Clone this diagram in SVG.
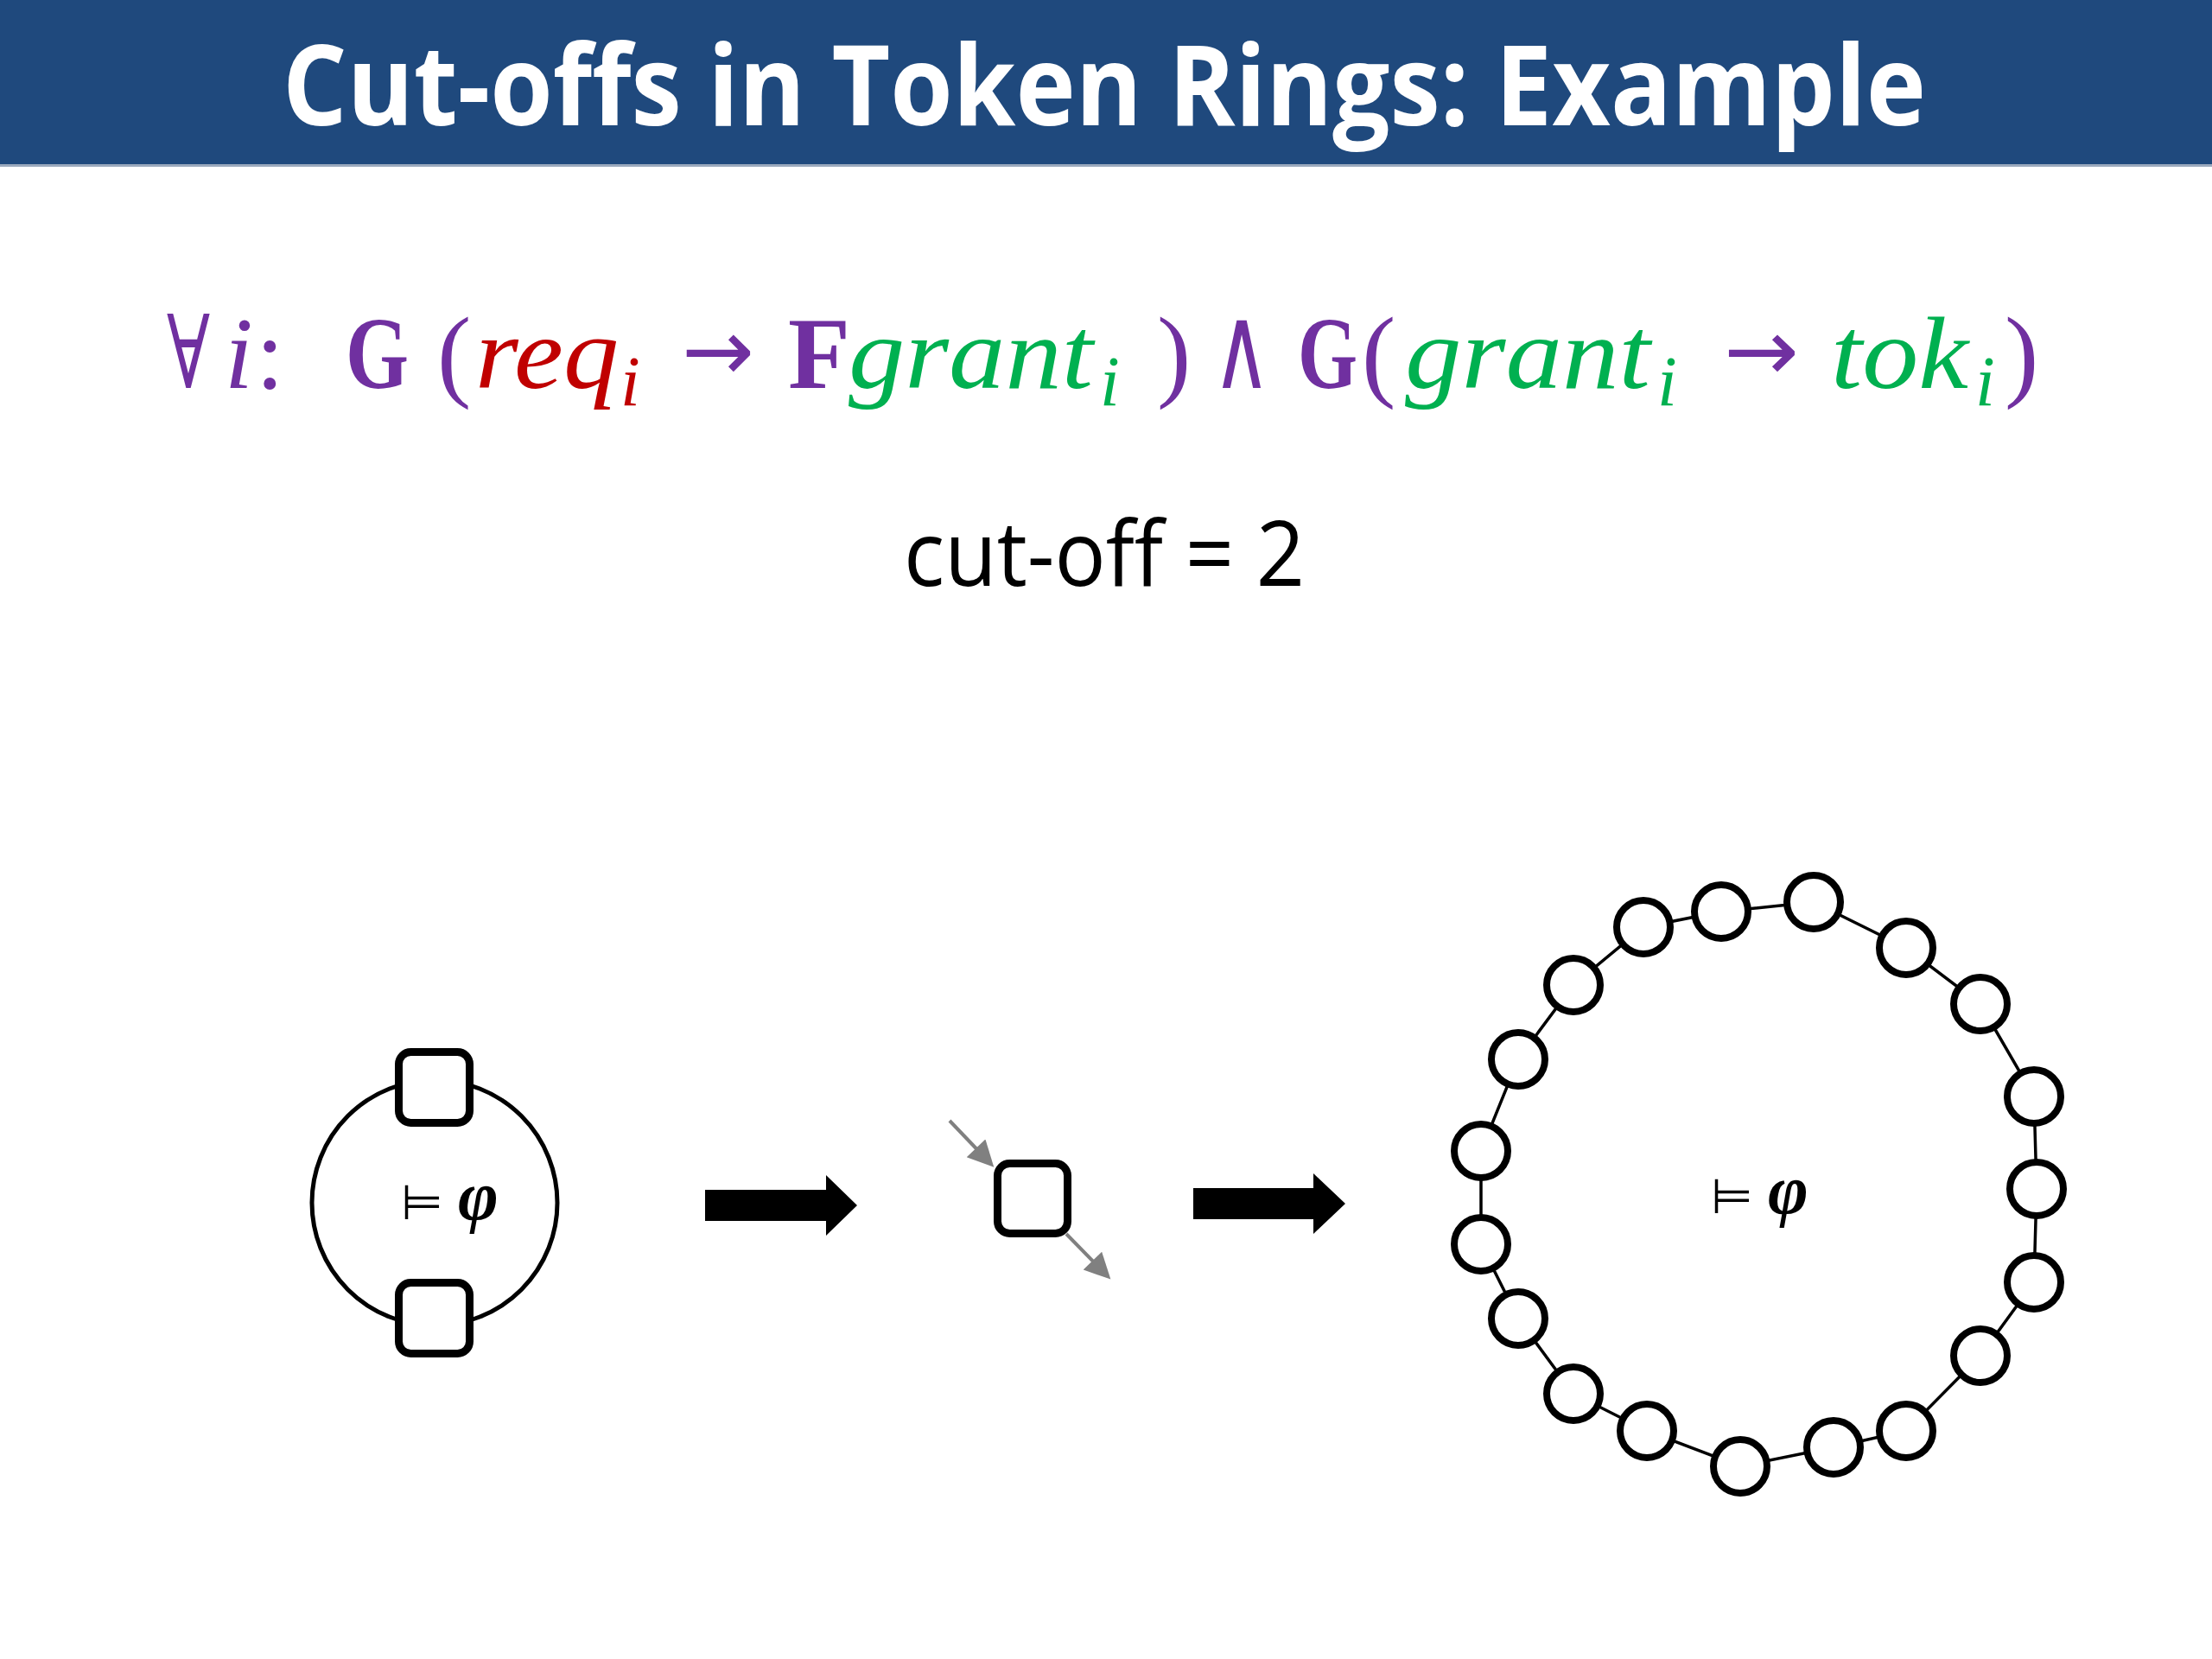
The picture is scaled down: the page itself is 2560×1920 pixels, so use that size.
<svg xmlns="http://www.w3.org/2000/svg" width="2560" height="1920" viewBox="0 0 2560 1920">
<style>
.title{font-family:"Open Sans","Liberation Sans",sans-serif;font-weight:bold;font-size:130px;fill:#fff}
.m{font-family:"Liberation Serif","DejaVu Serif",serif;font-size:118px}
.op{font-family:"DejaVu Sans",sans-serif;font-size:100px}
.it{font-style:italic}
.b{font-weight:bold}
.sub{font-family:"Liberation Serif",serif;font-style:italic;font-size:82px}
.pu{fill:#7030A0}.re{fill:#C00000}.gr{fill:#00B050}
.cut{font-family:"Open Sans","Liberation Sans",sans-serif;font-size:104px;fill:#000}
.ent{font-family:"DejaVu Sans",sans-serif;font-size:56px;fill:#000}
.phi{font-family:"Liberation Serif",serif;font-style:italic;font-weight:bold;font-size:80px;fill:#000}
.sq{fill:#fff;stroke:#000;stroke-width:9}
.node{fill:#fff;stroke:#000;stroke-width:8}
.ring{fill:none;stroke:#000;stroke-width:3.5}
.gray{stroke:#808080;stroke-width:4;fill:none}
</style>
<defs>
<marker id="gh" viewBox="0 0 10 10" refX="6" refY="5" markerWidth="36" markerHeight="30" markerUnits="userSpaceOnUse" orient="auto">
<path d="M0,0 L10,5 L0,10 z" fill="#808080"/>
</marker>
</defs>
<rect width="2560" height="1920" fill="#fff"/>
<g id="title">
<rect x="0" y="0" width="2560" height="190" fill="#1F497D"/>
<rect x="0" y="190" width="2560" height="3" fill="#9aa9bd"/>
<text class="title" x="1278" y="145" text-anchor="middle" textLength="1902" lengthAdjust="spacingAndGlyphs">Cut-offs in Token Rings: Example</text>
</g>
<g id="formula">
<text class="m pu" x="193" y="449" textLength="50" lengthAdjust="spacingAndGlyphs">∀</text>
<text class="m pu it" x="260" y="449">i</text>
<text class="m pu" x="296" y="449">:</text>
<text class="m pu b" x="400" y="449" textLength="73" lengthAdjust="spacingAndGlyphs">G</text>
<text class="m pu" x="506" y="449">(</text>
<text class="m re it" x="550" y="449" textLength="166" lengthAdjust="spacingAndGlyphs">req</text>
<text class="sub re" x="718" y="469">i</text>
<text class="op pu" x="789" y="440" textLength="84" lengthAdjust="spacingAndGlyphs">→</text>
<text class="m" x="912" y="449"><tspan class="pu b">F</tspan><tspan class="gr it" x="982" textLength="283" lengthAdjust="spacingAndGlyphs">grant</tspan></text>
<text class="sub gr" x="1273" y="469">i</text>
<text class="m pu" x="1339" y="449">)</text>
<text class="op pu" x="1403" y="449" style="font-size:135px" textLength="68" lengthAdjust="spacingAndGlyphs">∧</text>
<text class="m" x="1502" y="449"><tspan class="pu b" textLength="69" lengthAdjust="spacingAndGlyphs">G</tspan><tspan class="pu" x="1576">(</tspan><tspan class="gr it" x="1626" textLength="284" lengthAdjust="spacingAndGlyphs">grant</tspan></text>
<text class="sub gr" x="1918" y="469">i</text>
<text class="op pu" x="1995" y="440" textLength="87" lengthAdjust="spacingAndGlyphs">→</text>
<text class="m gr it" x="2119" y="449" textLength="159" lengthAdjust="spacingAndGlyphs">tok</text>
<text class="sub gr" x="2286" y="469">i</text>
<text class="m pu" x="2320" y="449">)</text>
</g>
<g id="cutoff">
<text class="cut" x="1046" y="678" textLength="464" lengthAdjust="spacingAndGlyphs">cut-off = 2</text>
</g>
<g id="two-ring">
<circle cx="503" cy="1392" r="142" fill="none" stroke="#000" stroke-width="5"/>
<rect class="sq" x="461.5" y="1217.5" width="82" height="82" rx="14"/>
<rect class="sq" x="461.5" y="1484.5" width="82" height="82" rx="14"/>
<text class="ent" x="464" y="1411">⊨</text>
<text class="phi" x="530" y="1411">φ</text>
</g>
<g id="connectors">
<polygon points="816,1377 956,1377 956,1360 992,1395 956,1430 956,1413 816,1413" fill="#000"/>
<polygon points="1381,1375 1520,1375 1520,1358 1557,1393 1520,1428 1520,1411 1381,1411" fill="#000"/>
<line class="gray" x1="1099" y1="1297" x2="1142" y2="1342" marker-end="url(#gh)"/>
<line class="gray" x1="1234" y1="1428" x2="1277" y2="1472" marker-end="url(#gh)"/>
</g>
<g id="process">
<rect class="sq" x="1154.5" y="1346.5" width="81" height="81" rx="14"/>
</g>
<g id="big-ring">
<polygon class="ring" points="2099,1044 1992,1055 1902,1073 1821,1140 1757,1226 1714,1332 1714,1440 1757,1526 1821,1613 1906,1656 2014,1697 2122,1675 2206,1656 2292,1569 2354,1484 2357,1376 2354,1269 2292,1162 2206,1097"/>
<circle class="node" cx="2099" cy="1044" r="31"/>
<circle class="node" cx="1992" cy="1055" r="31"/>
<circle class="node" cx="1902" cy="1073" r="31"/>
<circle class="node" cx="1821" cy="1140" r="31"/>
<circle class="node" cx="1757" cy="1226" r="31"/>
<circle class="node" cx="1714" cy="1332" r="31"/>
<circle class="node" cx="1714" cy="1440" r="31"/>
<circle class="node" cx="1757" cy="1526" r="31"/>
<circle class="node" cx="1821" cy="1613" r="31"/>
<circle class="node" cx="1906" cy="1656" r="31"/>
<circle class="node" cx="2014" cy="1697" r="31"/>
<circle class="node" cx="2122" cy="1675" r="31"/>
<circle class="node" cx="2206" cy="1656" r="31"/>
<circle class="node" cx="2292" cy="1569" r="31"/>
<circle class="node" cx="2354" cy="1484" r="31"/>
<circle class="node" cx="2357" cy="1376" r="31"/>
<circle class="node" cx="2354" cy="1269" r="31"/>
<circle class="node" cx="2292" cy="1162" r="31"/>
<circle class="node" cx="2206" cy="1097" r="31"/>
<text class="ent" x="1980" y="1404">⊨</text>
<text class="phi" x="2046" y="1404">φ</text>
</g>
</svg>
